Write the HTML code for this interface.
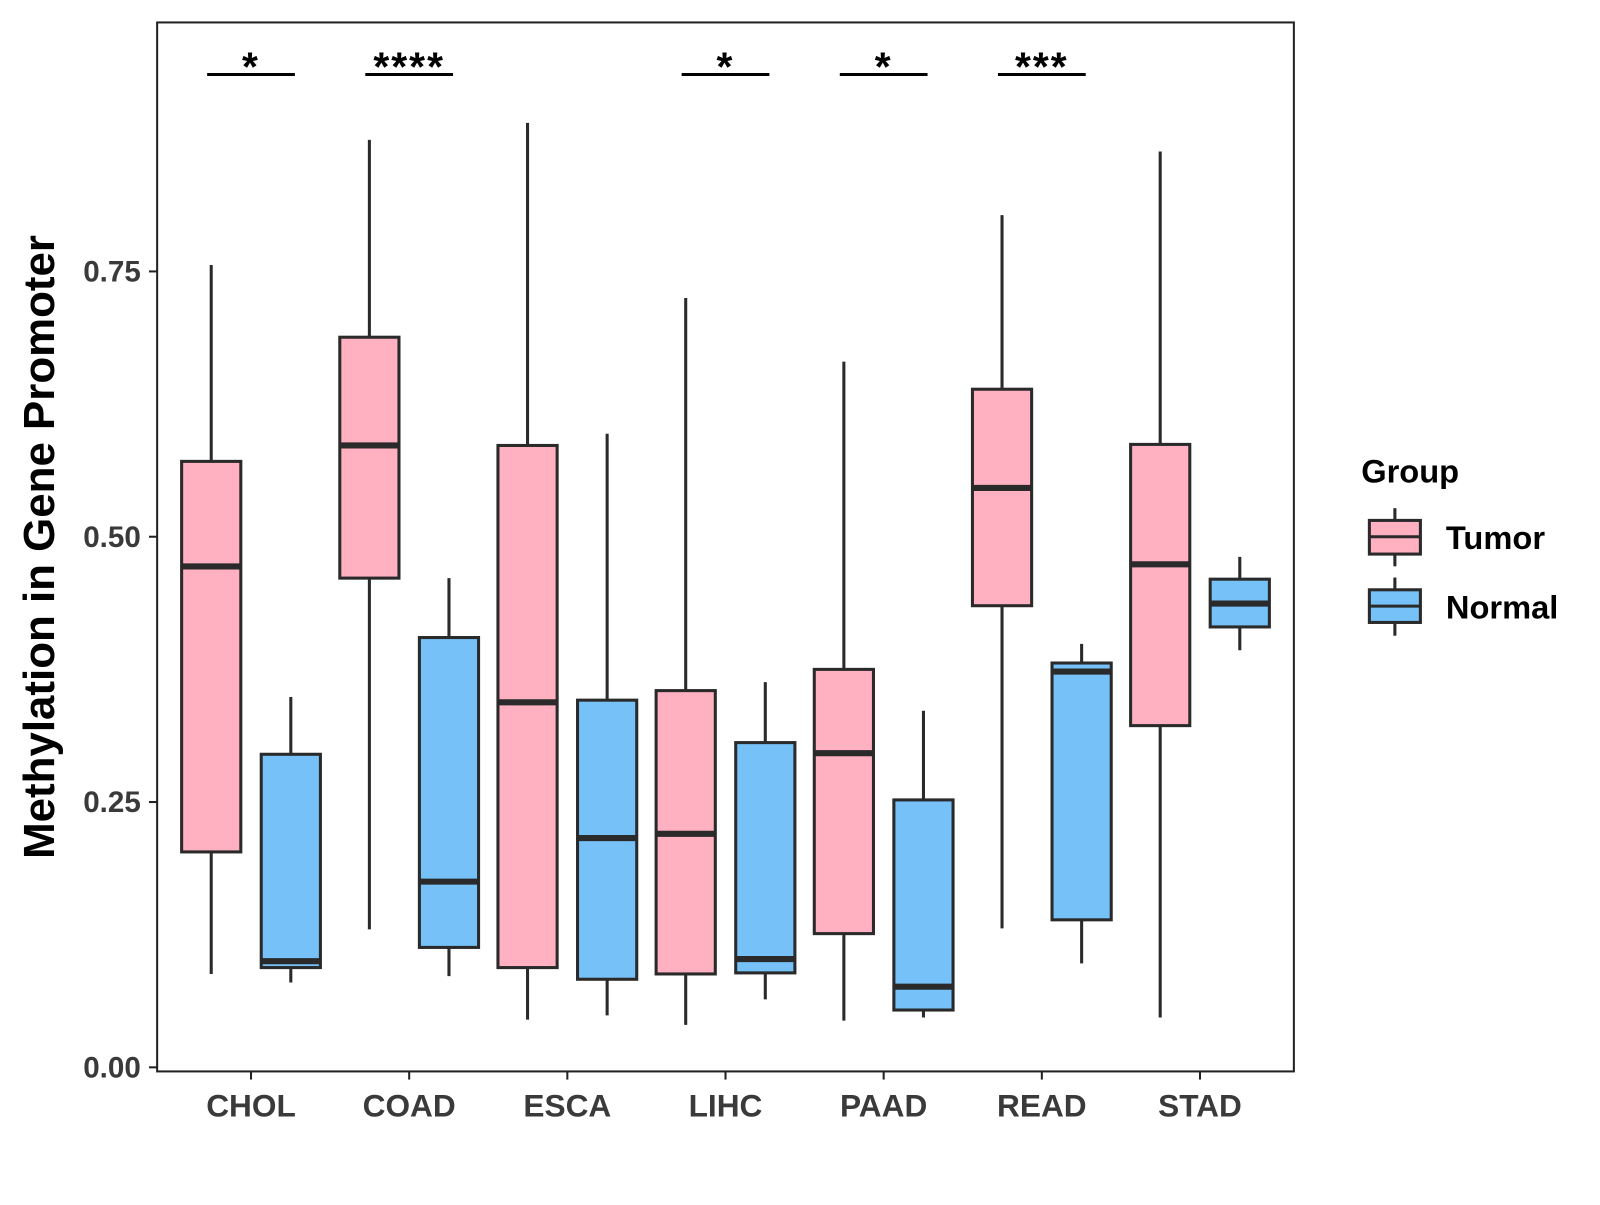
<!DOCTYPE html>
<html><head><meta charset="utf-8"><style>
body{margin:0;background:#fff;}
svg text{font-family:"Liberation Sans",Arial,sans-serif;font-weight:bold;}
</style></head><body>
<svg id="chart" width="1600" height="1200" viewBox="0 0 1600 1200" xmlns="http://www.w3.org/2000/svg">
<g transform="scale(1.0204)">
<rect x="154" y="22" width="1114" height="1028" fill="#fff" stroke="#222" stroke-width="2"/>
<g id="marks"></g>
<text transform="translate(53,536) rotate(-90)" text-anchor="middle" font-size="43" fill="#000">Methylation in Gene Promoter</text>
<g>
<text x="1334" y="473" font-size="32" fill="#000">Group</text>
<g>
<line x1="1367" y1="498" x2="1367" y2="555" stroke="#2a2a2a" stroke-width="3"/>
<rect x="1342" y="510" width="50" height="33" fill="#FFB0C1" stroke="#2a2a2a" stroke-width="3"/>
<line x1="1342" y1="526" x2="1392" y2="526" stroke="#2a2a2a" stroke-width="3"/>
<text x="1417" y="538" font-size="32" fill="#000">Tumor</text></g>
<g>
<line x1="1367" y1="566" x2="1367" y2="623" stroke="#2a2a2a" stroke-width="3"/>
<rect x="1342" y="578" width="50" height="32" fill="#75C1F8" stroke="#2a2a2a" stroke-width="3"/>
<line x1="1342" y1="594" x2="1392" y2="594" stroke="#2a2a2a" stroke-width="3"/>
<text x="1417" y="606" font-size="32" fill="#000">Normal</text></g>
</g>
</g>
</svg>
<script>
const categories=["CHOL","COAD","ESCA","LIHC","PAAD","READ","STAD"];
// [low, q1, median, q3, high]
const tumorStats=[[0.088,0.203,0.472,0.571,0.756],[0.130,0.461,0.586,0.688,0.874],[0.045,0.094,0.344,0.586,0.890],[0.040,0.088,0.220,0.355,0.725],[0.044,0.126,0.296,0.375,0.665],[0.131,0.435,0.546,0.639,0.803],[0.047,0.322,0.474,0.587,0.863]];
const normalStats=[[0.080,0.094,0.100,0.295,0.349],[0.086,0.113,0.175,0.405,0.461],[0.049,0.083,0.216,0.346,0.597],[0.064,0.089,0.102,0.306,0.363],[0.047,0.054,0.076,0.252,0.336],[0.098,0.139,0.373,0.381,0.399],[0.393,0.415,0.437,0.460,0.481]];
const signif=["*","****","","*","*","***",""];
const yTicks=[0,0.25,0.5,0.75];
const yTickLabels=["0.00","0.25","0.50","0.75"];
const NS="http://www.w3.org/2000/svg";
const g=document.getElementById('marks');
const y=v=>1046-1040*v;
const x=i=>246+155*i;
function mk(t,a,p){const e=document.createElementNS(NS,t);for(const k in a)e.setAttribute(k,a[k]);(p||g).appendChild(e);return e;}
yTicks.forEach((v,i)=>{
 const t=mk('line',{x1:146,x2:154,y1:y(v),y2:y(v),stroke:'#222','stroke-width':2});
 
 
 const l=mk('text',{x:138,y:y(v)+10,'text-anchor':'end','font-size':29,fill:'#3a3a3a'});
 
 
 l.textContent=yTickLabels[i];
});
function box(cx,s,fill,name){
 const grp=mk('g',{});
 
 
 mk('line',{x1:cx,x2:cx,y1:y(s[4]),y2:y(s[0]),stroke:'#2a2a2a','stroke-width':3},grp);
 mk('rect',{x:cx-29,y:y(s[3]),width:58,height:y(s[1])-y(s[3]),fill:fill,stroke:'#2a2a2a','stroke-width':3},grp);
 mk('line',{x1:cx-29,x2:cx+29,y1:y(s[2]),y2:y(s[2]),stroke:'#2a2a2a','stroke-width':6},grp);
}
categories.forEach((c,i)=>{
 const cx=x(i);
 box(cx-39,tumorStats[i],'#FFB0C1','box-tumor-'+c.toLowerCase());
 box(cx+39,normalStats[i],'#75C1F8','box-normal-'+c.toLowerCase());
 const t=mk('line',{x1:cx,x2:cx,y1:1050,y2:1058,stroke:'#222','stroke-width':2});
 
 
 const l=mk('text',{x:cx,y:1094,'text-anchor':'middle','font-size':31,fill:'#3a3a3a'});
 
 
 l.textContent=c;
 if(signif[i]){
  const b=mk('line',{x1:cx-43,x2:cx+43,y1:73,y2:73,stroke:'#000','stroke-width':3});
  
  
  const s=mk('text',{x:cx,y:79,'text-anchor':'middle','font-size':40,'letter-spacing':2,fill:'#000'});
  
  
  s.textContent=signif[i];
 }
});
</script>
</body></html>
